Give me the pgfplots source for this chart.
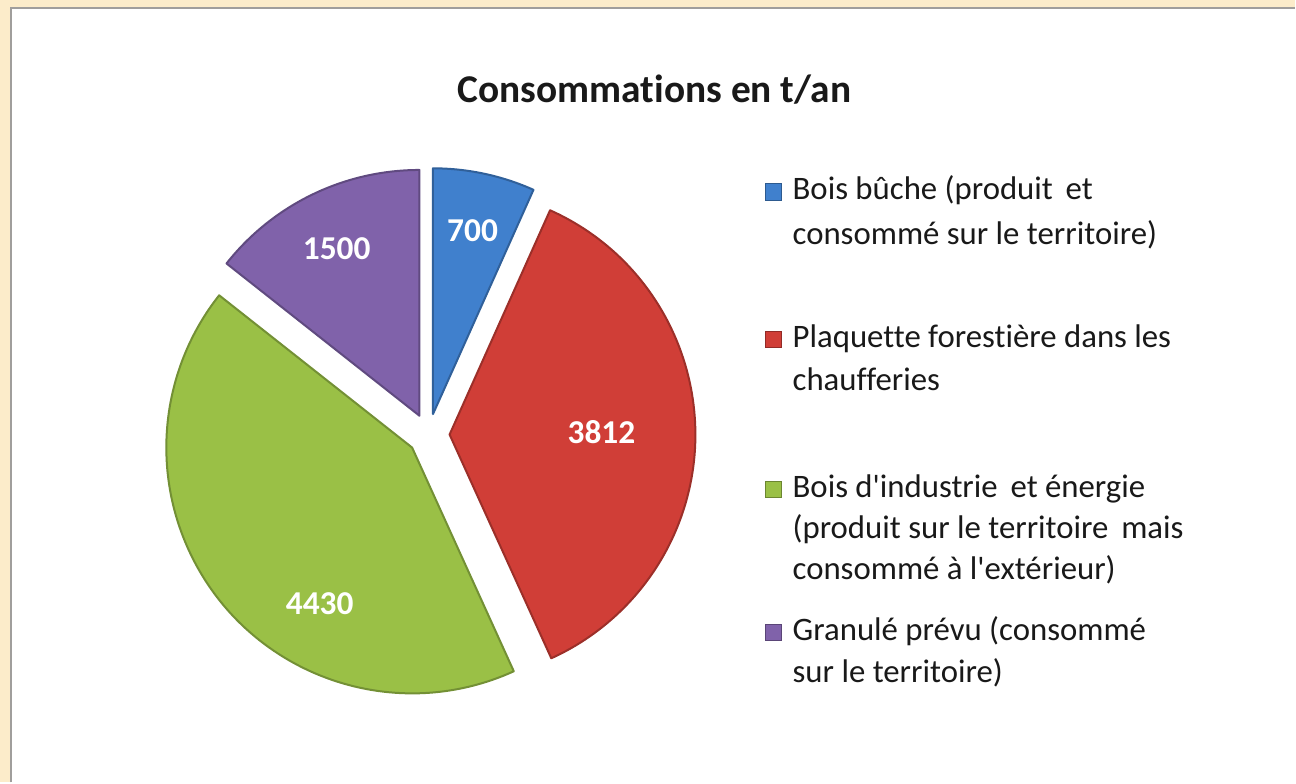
\documentclass[border=0pt]{standalone}
\usepackage{pgfplots}
\pgfplotsset{compat=1.18}
\usepackage{fontspec}
\setmainfont{Carlito}[Ligatures={NoCommon,TeXOff}]
\usetikzlibrary{calc}

\definecolor{cBlue}{RGB}{64,128,205}
\definecolor{cRed}{RGB}{208,62,55}
\definecolor{cGreen}{RGB}{154,192,70}
\definecolor{cPurple}{RGB}{128,98,170}
\definecolor{cBeige}{RGB}{252,236,202}
\definecolor{cFrame}{RGB}{160,158,156}
\definecolor{cText}{RGB}{25,25,25}

% data (t/an)
\def\vA{700}\def\vB{3812}\def\vC{4430}\def\vD{1500}
\pgfmathsetmacro\tot{\vA+\vB+\vC+\vD}
\pgfmathsetmacro\aA{90}
\pgfmathsetmacro\aB{\aA-360*(\vA/\tot)}
\pgfmathsetmacro\aC{\aB-360*(\vB/\tot)}
\pgfmathsetmacro\aD{\aC-360*(\vC/\tot)}
\pgfmathsetmacro\aE{\aD-360*(\vD/\tot)}
\def\cx{429}\def\cy{435}
\def\R{123pt}\def\dd{10.5pt}

\newcommand\pieslice[3]{%
  \fill[#3, draw=#3!75!black, line width=1pt, line join=round]
    ($(axis cs:\cx,\cy)+({(#1+#2)/2}:\dd)$) -- ++(#1:\R)
    arc[start angle=#1, end angle=#2, radius=\R] -- cycle;}

\begin{document}
\begin{tikzpicture}
\begin{axis}[hide axis, x=0.5pt, y=0.5pt, xmin=0, xmax=1296, ymin=0, ymax=783,
  y dir=reverse, clip=false, scale only axis]
  % background / frame
  \fill[cBeige] (axis cs:0,0) rectangle (axis cs:1296,783);
  \fill[white] (axis cs:11,8) rectangle (axis cs:1296,783);
  \draw[cFrame, line width=1.2pt] (axis cs:11,783) -- (axis cs:11,8) -- (axis cs:1296,8);
  % title
  \node[font=\bfseries\fontsize{19.7}{24}\selectfont, text=cText] at (axis cs:655,90) {Consommations en t/an};
  % slices
  \pieslice{\aA}{\aB}{cBlue}
  \pieslice{\aB}{\aC}{cRed}
  \pieslice{\aC}{\aD}{cGreen}
  \pieslice{\aD}{\aE}{cPurple}
  % data labels
  \begin{scope}[every node/.style={font=\bfseries\fontsize{16.7}{20}\selectfont, text=white}]
  \node at (axis cs:473,231) {700};
  \node at (axis cs:602,432) {3812};
  \node at (axis cs:320,604) {4430};
  \node at (axis cs:337,249) {1500};
  \end{scope}
  % legend markers
  \addplot[only marks, mark=square*, mark size=4.1pt, mark options={fill=cBlue, draw=cBlue!70!black}] coordinates {(774,192)};
  \addplot[only marks, mark=square*, mark size=4.1pt, mark options={fill=cRed, draw=cRed!70!black}] coordinates {(774,340)};
  \addplot[only marks, mark=square*, mark size=4.1pt, mark options={fill=cGreen, draw=cGreen!70!black}] coordinates {(774,490)};
  \addplot[only marks, mark=square*, mark size=4.1pt, mark options={fill=cPurple, draw=cPurple!70!black}] coordinates {(774,633)};
  % legend text
  \begin{scope}[every node/.style={font=\fontsize{16.4}{20}\selectfont, text=cText, anchor=base west, inner sep=0pt}]
  \node at (axis cs:793,200) {Bois bûche (produit\, et};
  \node at (axis cs:793,245) {consommé sur le territoire)};
  \node at (axis cs:793,348) {Plaquette forestière dans les};
  \node at (axis cs:793,391) {chaufferies};
  \node at (axis cs:793,498) {Bois d'industrie\, et énergie};
  \node at (axis cs:793,539) {(produit sur le territoire\, mais};
  \node at (axis cs:793,580) {consommé à l'extérieur)};
  \node at (axis cs:793,641) {Granulé prévu (consommé};
  \node at (axis cs:793,683) {sur le territoire)};
  \end{scope}
\end{axis}
\end{tikzpicture}
\end{document}
